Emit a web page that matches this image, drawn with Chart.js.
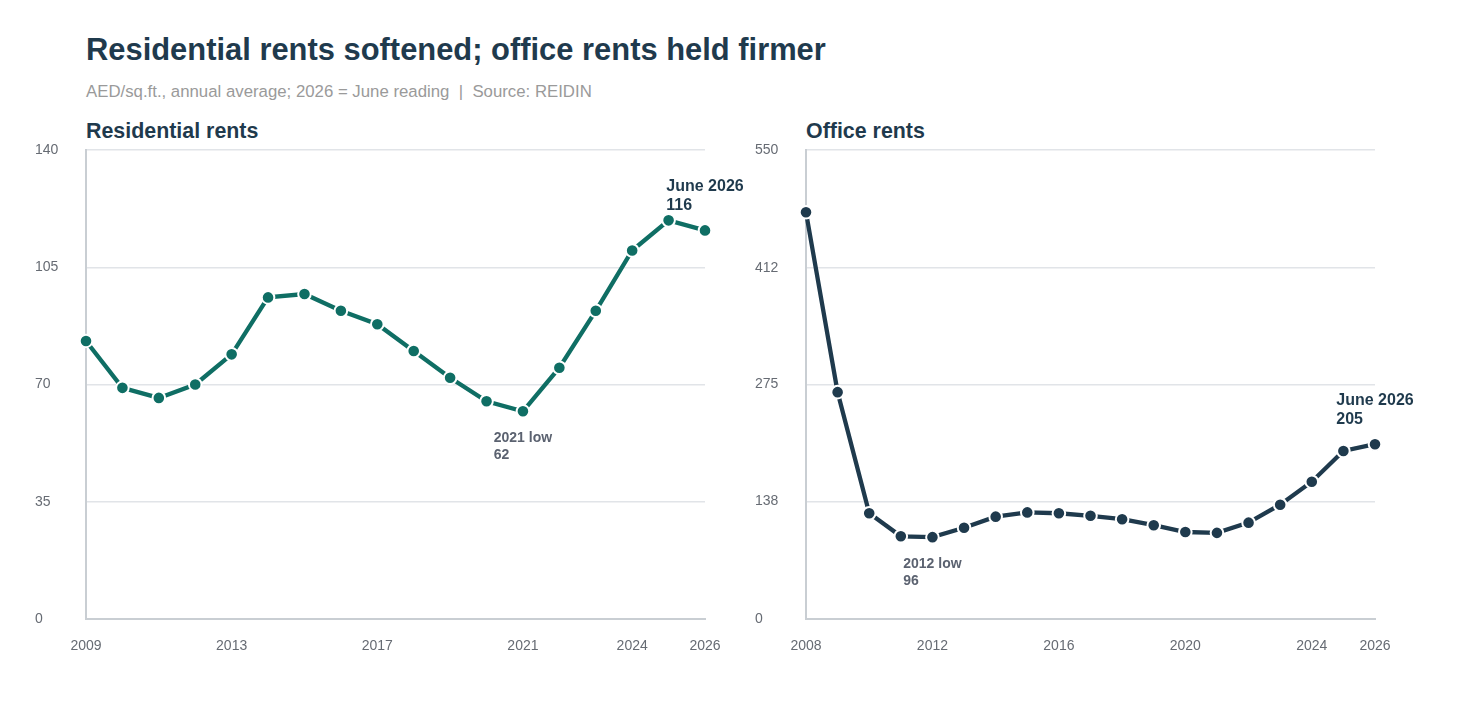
<!DOCTYPE html>
<html><head><meta charset="utf-8">
<script src="https://cdn.jsdelivr.net/npm/chart.js@4"></script>
<style>
html,body{margin:0;padding:0;background:#fff}
body{width:1458px;height:720px;overflow:hidden;position:relative;font-family:"Liberation Sans",Arial,sans-serif}
#title{position:absolute;left:86px;top:31px;font-size:30.9px;font-weight:bold;color:#1f3a4d;white-space:nowrap;line-height:38px}
#sub{position:absolute;left:86px;top:82px;font-size:16.8px;color:#9a9a9a;white-space:nowrap;line-height:20px}
.ptitle{position:absolute;top:118px;font-size:21.4px;font-weight:bold;color:#1f3a4d;white-space:nowrap;line-height:26px}
.wrap{position:absolute;top:140px;height:540px}
</style>
</head><body>
<div id="title">Residential rents softened; office rents held firmer</div>
<div id="sub">AED/sq.ft., annual average; 2026 = June reading &nbsp;|&nbsp; Source: REIDIN</div>
<div class="ptitle" style="left:86px">Residential rents</div>
<div class="ptitle" style="left:806px">Office rents</div>
<div class="wrap" style="left:35px;width:730px"><canvas id="c1"></canvas></div>
<div class="wrap" style="left:755px;width:690px"><canvas id="c2"></canvas></div>
<script>
const resYears = [2009,2010,2011,2012,2013,2014,2015,2016,2017,2018,2019,2020,2021,2022,2023,2024,2025,2026];
const resValues = [83,69,66,70,79,96,97,92,88,80,72,65,62,75,92,110,119,116];
const resXTicks = [2009,2013,2017,2021,2024,2026];
const resYTicks = [0,35,70,105,140];

const offYears = [2008,2009,2010,2011,2012,2013,2014,2015,2016,2017,2018,2019,2020,2021,2022,2023,2024,2025,2026];
const offValues = [477,266,124,97,96,107,120,125,124,121,117,110,102,101,113,134,161,197,205];
const offXTicks = [2008,2012,2016,2020,2024,2026];
const offYTicks = [0,138,275,412,550];

const FONT = '"Liberation Sans", Arial, sans-serif';
const TICK_COLOR = '#666b73';

const annotPlugin = {
  id: 'annot',
  afterDatasetsDraw(chart, args, opts) {
    const ctx = chart.ctx;
    const xs = chart.scales.x, ys = chart.scales.y;
    (opts.items || []).forEach(it => {
      const px = xs.getPixelForValue(it.x);
      const py = ys.getPixelForValue(it.y);
      ctx.save();
      ctx.font = 'bold ' + it.size + 'px ' + FONT;
      ctx.fillStyle = it.color;
      ctx.textAlign = 'left';
      ctx.textBaseline = 'middle';
      const w = Math.max(...it.lines.map(l => ctx.measureText(l).width));
      const left = px - w / 2;
      const n = it.lines.length;
      it.lines.forEach((l, i) => {
        let cy;
        if (it.above) cy = py - it.gap - (n - 1 - i) * it.lh;
        else cy = py + it.gap + i * it.lh;
        ctx.fillText(l, left, cy);
      });
      ctx.restore();
    });
  }
};

function makeChart(id, years, values, xTicks, yTicks, color, items, padRight) {
  return new Chart(document.getElementById(id), {
    type: 'line',
    data: {
      datasets: [{
        data: years.map((y, i) => ({x: y, y: values[i]})),
        borderColor: color,
        backgroundColor: color,
        borderWidth: 4.3,
        pointRadius: 6.3,
        pointHoverRadius: 6.3,
        pointBackgroundColor: color,
        pointBorderColor: '#ffffff',
        pointBorderWidth: 2,
        tension: 0,
        clip: false
      }]
    },
    options: {
      responsive: true,
      maintainAspectRatio: false,
      animation: false,
      events: [],
      layout: {padding: {top: 10, right: padRight, left: 0, bottom: 0}},
      plugins: {legend: {display: false}, tooltip: {enabled: false}, annot: {items}},
      scales: {
        x: {
          type: 'linear',
          min: years[0], max: years[years.length - 1],
          afterBuildTicks: s => { s.ticks = xTicks.map(v => ({value: v})); },
          afterFit: s => { s.height = 61; },
          grid: {display: false, drawTicks: false},
          border: {display: true, color: '#c9ced3', width: 2},
          ticks: {autoSkip: false, maxRotation: 0, padding: 19, color: TICK_COLOR,
                  font: {family: FONT, size: 14}, callback: v => String(v)}
        },
        y: {
          type: 'linear',
          min: yTicks[0], max: yTicks[yTicks.length - 1],
          afterBuildTicks: s => { s.ticks = yTicks.map(v => ({value: v})); },
          afterFit: s => { s.width = 51; },
          grid: {color: '#e1e4e8', lineWidth: 1.5, drawTicks: false},
          border: {display: true, color: '#c9ced3', width: 2},
          ticks: {crossAlign: 'far', padding: 0, color: TICK_COLOR,
                  font: {family: FONT, size: 14}, callback: v => String(v)}
        }
      }
    },
    plugins: [annotPlugin]
  });
}

const resLast = resValues.length - 1;
const resMinIdx = resValues.indexOf(Math.min(...resValues));
makeChart('c1', resYears, resValues, resXTicks, resYTicks, '#0f6e64', [
  {x: resYears[resLast], y: resValues[resLast], lines: ['June ' + resYears[resLast], String(resValues[resLast])],
   above: true, gap: 24.5, lh: 19, size: 16, color: '#1f3a4d'},
  {x: resYears[resMinIdx], y: resValues[resMinIdx], lines: [resYears[resMinIdx] + ' low', String(resValues[resMinIdx])],
   above: false, gap: 27, lh: 16.8, size: 14, color: '#5b6270'}
], 60);

const offLast = offValues.length - 1;
const offMinIdx = offValues.indexOf(Math.min(...offValues));
makeChart('c2', offYears, offValues, offXTicks, offYTicks, '#1f3a4d', [
  {x: offYears[offLast], y: offValues[offLast], lines: ['June ' + offYears[offLast], String(offValues[offLast])],
   above: true, gap: 25, lh: 18.5, size: 16, color: '#1f3a4d'},
  {x: offYears[offMinIdx], y: offValues[offMinIdx], lines: [offYears[offMinIdx] + ' low', String(offValues[offMinIdx])],
   above: false, gap: 27.5, lh: 16.8, size: 14, color: '#5b6270'}
], 70);
</script>
</body></html>
